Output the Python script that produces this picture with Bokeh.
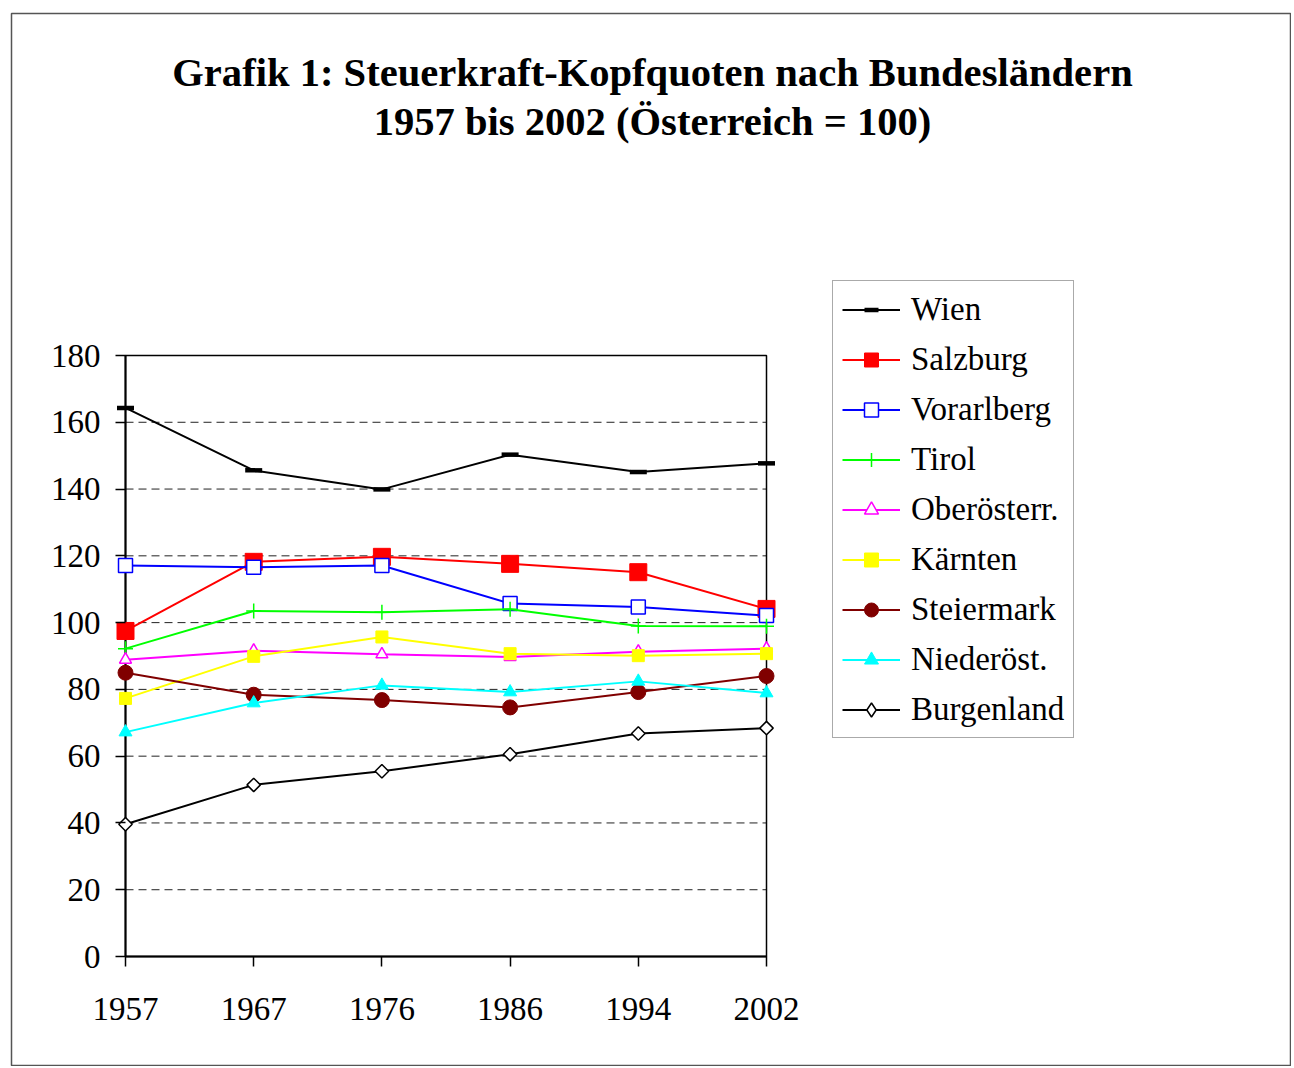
import math
from bokeh.plotting import figure
from bokeh.models import Range1d, FixedTicker, Legend, LegendItem, Label
from bokeh.embed import file_html
from bokeh.resources import INLINE

years = ["1957", "1967", "1976", "1986", "1994", "2002"]
wien = [164.3, 145.6, 139.9, 150.3, 145.1, 147.7]
salzburg = [97.5, 118.2, 119.7, 117.6, 115.1, 104.1]
vorarlberg = [117.1, 116.6, 117.1, 105.7, 104.7, 102.1]
tirol = [92.2, 103.5, 103.1, 104.0, 99.0, 98.9]
oberoesterr = [88.9, 91.6, 90.5, 89.7, 91.3, 92.2]
kaernten = [77.3, 89.9, 95.7, 90.7, 90.1, 90.7]
steiermark = [85.0, 78.4, 76.8, 74.6, 79.2, 84.0]
niederoest = [67.2, 75.9, 81.2, 79.2, 82.4, 78.9]
burgenland = [39.6, 51.4, 55.5, 60.6, 66.8, 68.4]
y_ticks = [0, 20, 40, 60, 80, 100, 120, 140, 160, 180]

FONT = "Liberation Serif"
xs = list(range(len(years)))
X_MAX = len(years) - 1
Y_MAX = 180

# layout (pixels)
CANVAS_LEFT, CANVAS_TOP = 11, 13
FRAME_W, FRAME_H = 1280, 1053
PLOT_LEFT, PLOT_TOP = 125, 355      # image position of (0, Y_MAX)
PLOT_W, PLOT_H = 641, 601
ppx = PLOT_W / X_MAX
ppy = PLOT_H / Y_MAX
x0 = -(PLOT_LEFT - CANVAS_LEFT) / ppx
x1 = x0 + FRAME_W / ppx
y1 = Y_MAX + (PLOT_TOP - CANVAS_TOP) / ppy
y0 = y1 - FRAME_H / ppy

p = figure(frame_width=FRAME_W, frame_height=FRAME_H,
           min_border_left=CANVAS_LEFT, min_border_top=CANVAS_TOP,
           min_border_right=0, min_border_bottom=0,
           x_range=Range1d(x0, x1), y_range=Range1d(y0, y1),
           output_backend="svg", toolbar_location=None, tools="")
p.title.visible = False
p.background_fill_color = "white"
p.border_fill_color = "white"
p.outline_line_color = "#555555"
p.outline_line_width = 1.5
p.xgrid.visible = False
p.ygrid.visible = False

p.yaxis.ticker = FixedTicker(ticks=y_ticks)
p.xaxis.ticker = FixedTicker(ticks=xs)
p.xaxis.major_label_overrides = {i: y for i, y in enumerate(years)}
for ax in (p.xaxis[0], p.yaxis[0]):
    ax.fixed_location = 0
    ax.axis_line_color = None
    ax.major_tick_line_color = "black"
    ax.major_tick_line_width = 1.5
    ax.major_tick_out = 10
    ax.major_tick_in = 0
    ax.minor_tick_out = 0
    ax.minor_tick_in = 0
    ax.major_label_text_font = FONT
    ax.major_label_text_font_size = "33px"
    ax.major_label_text_color = "black"
p.yaxis.major_label_standoff = 15
p.xaxis.major_label_standoff = 31

# dashed gridlines inside plot box
grid_vals = y_ticks[1:-1]
p.segment(x0=[0] * len(grid_vals), x1=[X_MAX] * len(grid_vals), y0=grid_vals, y1=grid_vals,
          line_color="#222222", line_dash="8 5", line_width=1)
# plot box
p.quad(left=0, right=X_MAX, bottom=0, top=Y_MAX, fill_color=None, line_color="black", line_width=1.5)
p.segment(x0=[0, 0], y0=[0, 0], x1=[0, X_MAX], y1=[Y_MAX, 0], line_color="black", line_width=2)

series = [
    ("Wien", wien, "black", dict(marker="dash", size=17, line_color="black", line_width=4.5), None),
    ("Salzburg", salzburg, "#FF0000", dict(marker="square", size=17, fill_color="#FF0000", line_color="#FF0000"), None),
    ("Vorarlberg", vorarlberg, "#0000FF", dict(marker="square", size=14, fill_color="white", line_color="#0000FF", line_width=1.5), None),
    ("Tirol", tirol, "#00FF00", dict(marker="cross", size=15, line_color="#00FF00", line_width=1.5), None),
    ("Oberösterr.", oberoesterr, "#FF00FF", dict(marker="triangle", size=12, fill_color="white", line_color="#FF00FF", line_width=1.5), None),
    ("Kärnten", kaernten, "#FFFF00", dict(marker="square", size=12, fill_color="#FFFF00", line_color="#FFFF00"), None),
    ("Steiermark", steiermark, "#800000", dict(marker="circle", size=15, fill_color="#800000", line_color="#800000"), None),
    ("Niederöst.", niederoest, "#00FFFF", dict(marker="triangle", size=13, fill_color="#00FFFF", line_color="#00FFFF"), None),
    ("Burgenland", burgenland, "black", dict(marker="square", size=9.5, angle=math.pi / 4, fill_color="white", line_color="black", line_width=1.5),
     dict(marker="diamond", size=13, fill_color="white", line_color="black", line_width=1.5)),
]

items = []
for name, vals, col, mk, leg_mk in series:
    ln = p.line(xs, vals, line_color=col, line_width=2)
    sc = p.scatter(xs, vals, **mk)
    if leg_mk is None:
        items.append(LegendItem(label=name, renderers=[ln, sc]))
    else:
        # legend-only marker (no drawable data point in the plot)
        leg_sc = p.scatter(x=[float("nan")], y=[float("nan")], **leg_mk)
        items.append(LegendItem(label=name, renderers=[ln, leg_sc]))

legend = Legend(items=items, location=(832 - CANVAS_LEFT, CANVAS_TOP + FRAME_H - 738),
                label_text_font=FONT, label_text_font_size="33px",
                label_text_color="black",
                glyph_width=58, glyph_height=35, label_height=38,
                spacing=12, padding=9, label_standoff=11,
                border_line_color="#555555", border_line_width=1,
                background_fill_color="white", background_fill_alpha=1)
p.add_layout(legend, "center")

title_x = (652 - PLOT_LEFT) / ppx
t1 = Label(x=title_x, y=Y_MAX + (PLOT_TOP - 72) / ppy,
           text="Grafik 1: Steuerkraft-Kopfquoten nach Bundesländern",
           text_font=FONT, text_font_size="40.6px", text_font_style="bold",
           text_align="center", text_baseline="middle", text_color="black")
t2 = Label(x=title_x, y=Y_MAX + (PLOT_TOP - 121) / ppy,
           text="1957 bis 2002 (Österreich = 100)",
           text_font=FONT, text_font_size="40.6px", text_font_style="bold",
           text_align="center", text_baseline="middle", text_color="black")
p.add_layout(t1)
p.add_layout(t2)

open("out.html", "w").write(file_html(p, INLINE))
